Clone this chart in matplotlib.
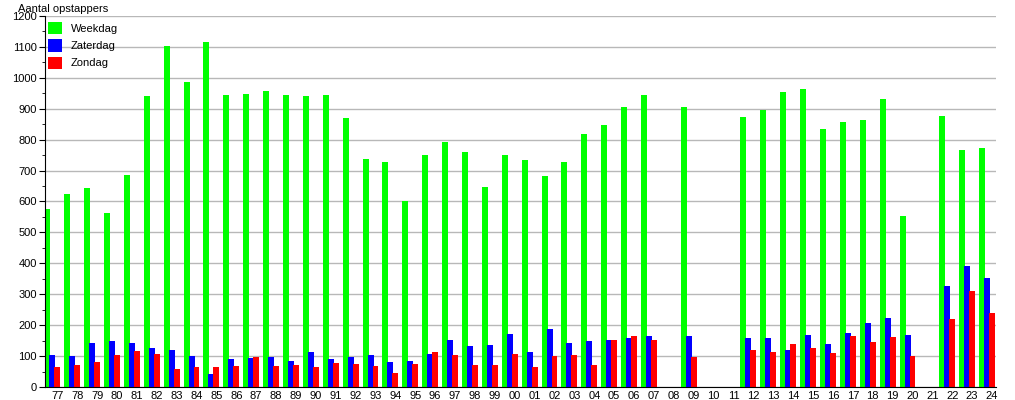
"""Aantal opstappers per jaar: weekdag / zaterdag / zondag."""

import matplotlib
matplotlib.use("Agg")
import matplotlib.pyplot as plt
from matplotlib.patches import Patch
from matplotlib.ticker import MultipleLocator
import numpy as np

plt.rcParams["font.family"] = ["Liberation Sans", "DejaVu Sans"]
plt.rcParams["font.size"] = 8

# ------------------------------------------------------------
# DATA (None = no data that year)
# ------------------------------------------------------------
YEARS = ["77", "78", "79", "80", "81", "82", "83", "84", "85", "86", "87", "88",
         "89", "90", "91", "92", "93", "94", "95", "96", "97", "98", "99", "00",
         "01", "02", "03", "04", "05", "06", "07", "08", "09", "10", "11", "12",
         "13", "14", "15", "16", "17", "18", "19", "20", "21", "22", "23", "24"]

WEEKDAG = [575, 624, 643, 562, 685, 940, 1104, 985, 1117, 946, 949, 956,
           943, 940, 946, 869, 736, 729, 600, 749, 794, 759, 648, 752,
           733, 681, 729, 817, 849, 906, 943, None, 906, None, None, 872,
           895, 953, 963, 836, 856, 862, 933, 554, None, 875, 768, 774]

ZATERDAG = [105, 101, 143, 150, 143, 127, 121, 101, 43, 92, 95, 98,
            85, 114, 92, 98, 105, 82, 85, 108, 153, 134, 137, 173,
            114, 189, 143, 150, 153, 160, 166, None, 166, None, None, 160,
            160, 121, 169, 140, 176, 208, 224, 169, None, 328, 392, 354]

ZONDAG = [66, 72, 82, 105, 118, 108, 59, 66, 66, 69, 98, 69,
          72, 66, 79, 76, 69, 46, 76, 114, 105, 72, 72, 108,
          66, 101, 105, 72, 153, 166, 153, None, 98, None, None, 121,
          114, 140, 127, 111, 166, 147, 163, 101, None, 221, 312, 240]

SERIES = [("Weekdag", WEEKDAG, "#00ff00"),
          ("Zaterdag", ZATERDAG, "#0000ff"),
          ("Zondag", ZONDAG, "#ff0000")]


# ------------------------------------------------------------
# FIGURE
# ------------------------------------------------------------
fig = plt.figure(figsize=(10.15, 4.0), dpi=100)
ax = fig.add_axes([0.0443, 0.0325, 0.937, 0.9275])

x = np.arange(len(YEARS))
offsets = [-0.5, -0.25, 0.0]
for (name, vals, col), off in zip(SERIES, offsets):
    v = np.array([np.nan if a is None else a for a in vals], dtype=float)
    ax.bar(x + off, v, width=0.3, color=col, linewidth=0, zorder=2)

ax.set_xlim(-0.62, 47.2)
ax.set_ylim(0, 1200)
ax.set_xticks(x)
ax.set_xticklabels(YEARS)
ax.yaxis.set_major_locator(MultipleLocator(100))
ax.yaxis.set_minor_locator(MultipleLocator(50))
ax.tick_params(axis="x", length=0, pad=3)
ax.tick_params(axis="y", which="major", length=4, pad=2)
ax.tick_params(axis="y", which="minor", length=2)
ax.grid(axis="y", color="#b8b8b8", lw=1, zorder=0)
ax.set_axisbelow(True)
for s in ("top", "right"):
    ax.spines[s].set_visible(False)
for s in ("left", "bottom"):
    ax.spines[s].set_color("black")
    ax.spines[s].set_zorder(3)

fig.text(0.018, 0.978, "Aantal opstappers", ha="left", va="center")

handles = [Patch(facecolor=c, edgecolor="none") for _, _, c in SERIES]
ax.legend(handles, [n for n, _, _ in SERIES], loc="upper left",
          bbox_to_anchor=(-0.002, 0.995), frameon=False,
          handlelength=1.3, handleheight=1.3, handletextpad=0.8,
          labelspacing=0.45, borderaxespad=0.0)

fig.savefig("out.png", dpi=100)
